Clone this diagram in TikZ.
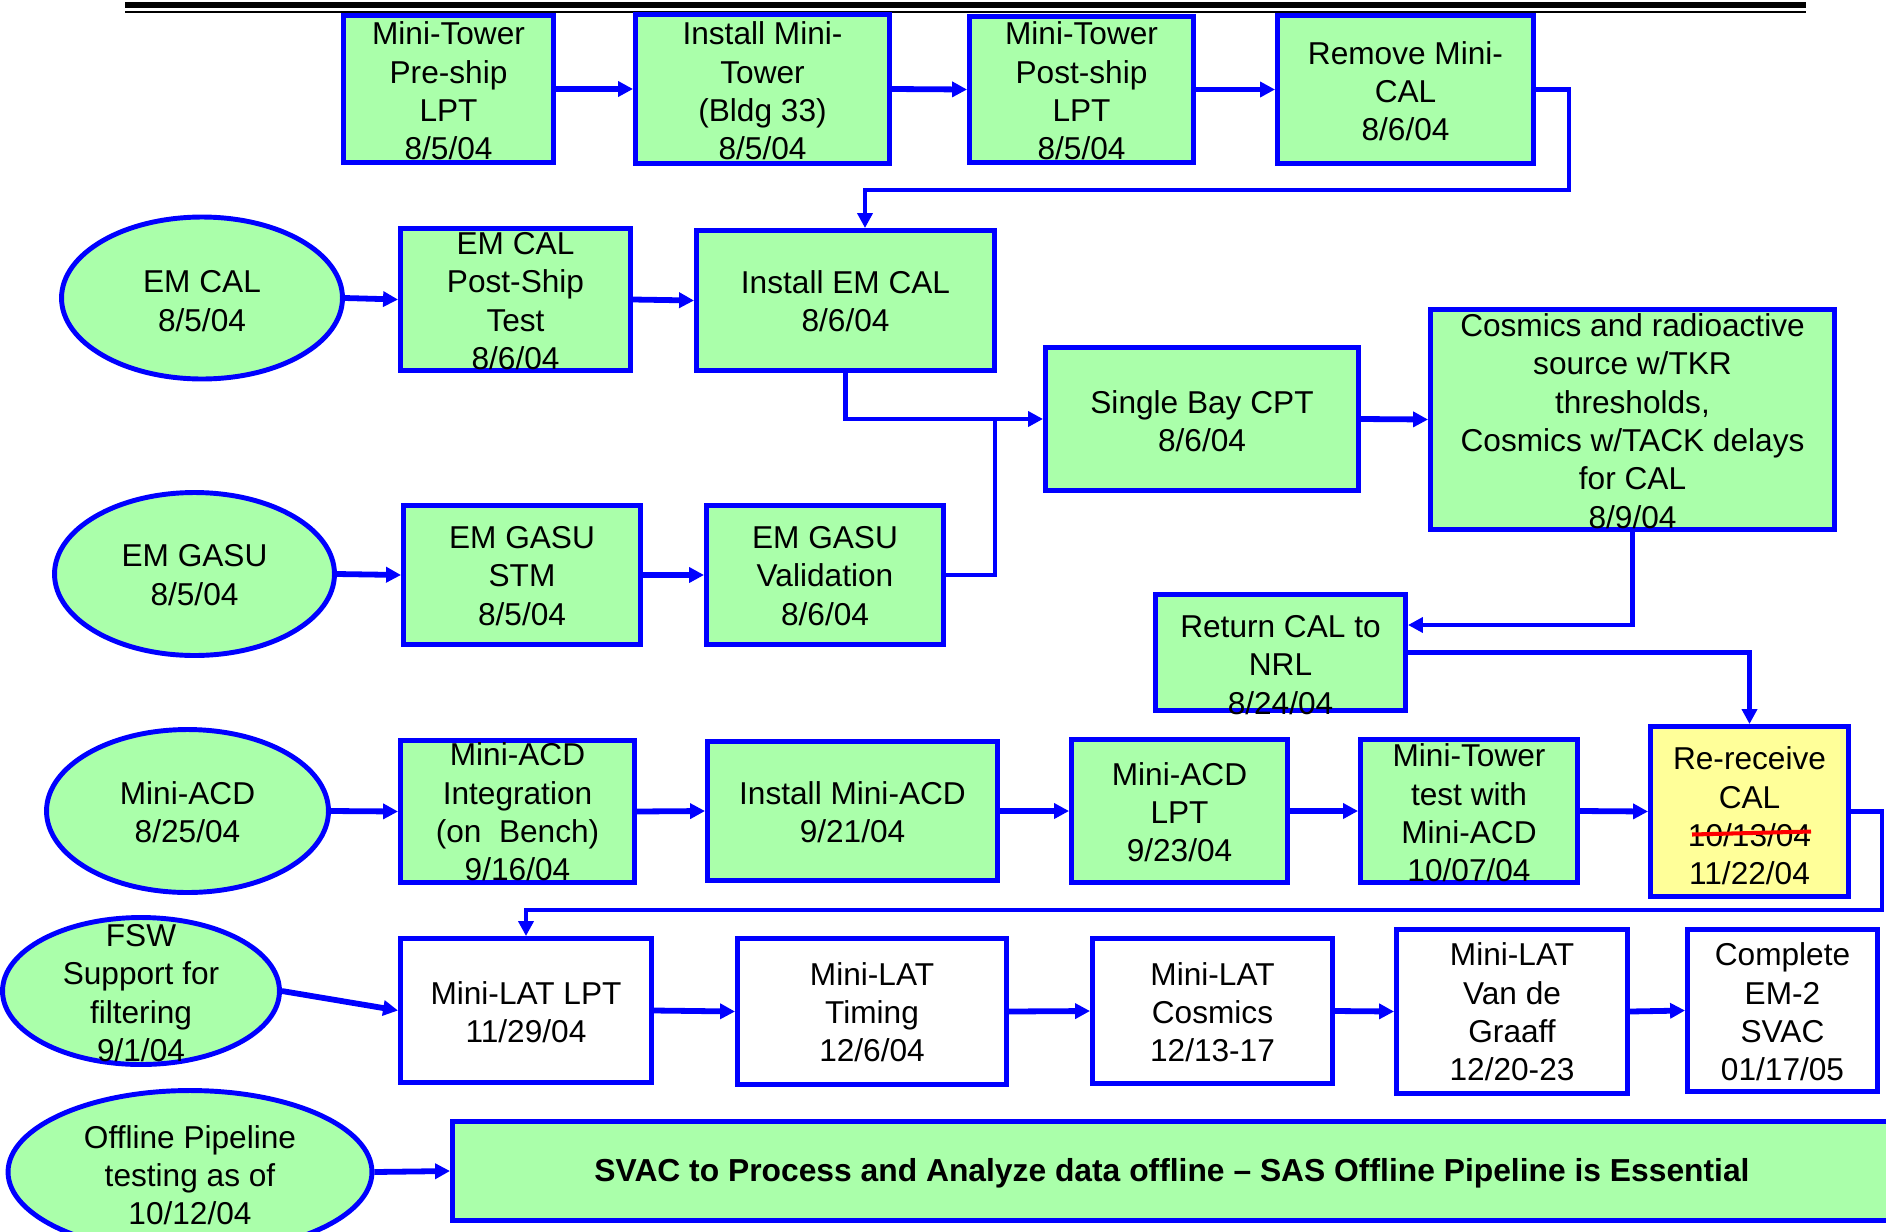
\documentclass[tikz,border=0pt]{standalone}
\usepackage{fontspec}
\setmainfont{Liberation Sans}
\usetikzlibrary{arrows.meta,shapes.geometric,fit}
\definecolor{lgreen}{RGB}{170,255,170}
\definecolor{bblue}{RGB}{0,0,255}
\definecolor{lyellow}{RGB}{255,255,153}
\definecolor{sred}{RGB}{255,0,0}
\begin{document}
\begin{tikzpicture}[x=0.02cm,y=-0.02cm,
  gbox/.style={rectangle, draw=bblue, line width=2.8pt, fill=lgreen, inner sep=0pt},
  wbox/.style={gbox, fill=white},
  ybox/.style={gbox, fill=lyellow},
  gell/.style={ellipse, draw=bblue, line width=2.8pt, fill=lgreen, inner sep=0pt},
  txt/.style={align=center, font=\fontsize{18}{21.8}\selectfont, inner sep=0pt},
  arr/.style={draw=bblue, line width=3.3pt, -{Triangle[length=8.5pt,width=8.5pt]}},
  earr/.style={draw=bblue, line width=2.8pt, -{Triangle[length=8.5pt,width=8.5pt]}},
  ln/.style={draw=bblue, line width=2.8pt}]
\fill[white] (0,0) rectangle (1886,1231);
\useasboundingbox (0,0) rectangle (1886,1231);

% top rule
\draw[line width=3.8pt] (125,5) -- (1806,5);
\draw[line width=1.1pt] (125,12) -- (1806,12);

% row 1
\node[gbox, fit={(343.5,15.5) (553.5,162.5)}] (mt1) {};
\node[gbox, fit={(635.5,14.5) (889.5,163.5)}] (mt2) {};
\node[gbox, fit={(969.5,16.5) (1193.5,162.5)}] (mt3) {};
\node[gbox, fit={(1277.5,15.5) (1533.5,163.5)}] (mt4) {};
\node[txt] (tmt1) at (448.5,91) {Mini-Tower\\Pre-ship\\LPT\\8/5/04};
\node[txt] (tmt2) at (762.5,91) {Install Mini-\\Tower\\(Bldg 33)\\8/5/04};
\node[txt] (tmt3) at (1081.5,91) {Mini-Tower\\Post-ship\\LPT\\8/5/04};
\node[txt] (tmt4) at (1405.5,91) {Remove Mini-\\CAL\\8/6/04};

% row 2
\node[gell, minimum width=5.62cm, minimum height=3.24cm] (emcal) at (202,298) {};
\node[txt] (temcal) at (202,301) {EM CAL\\8/5/04};
\node[gbox, fit={(400.5,228.5) (630.5,370.5)}] (pst) {};
\node[txt] (tpst) at (515.5,301) {EM CAL\\Post-Ship\\Test\\8/6/04};
\node[gbox, fit={(696.5,230.5) (994.5,370.5)}] (inst) {};
\node[txt] (tinst) at (845.5,301) {Install EM CAL\\8/6/04};
\node[gbox, fit={(1045.5,347.5) (1358.5,490.5)}] (sbc) {};
\node[txt] (tsbc) at (1202,421) {Single Bay CPT\\8/6/04};
\node[gbox, fit={(1430.5,309.5) (1834.5,529.5)}] (cos) {};
\node[txt] (tcos) at (1632.5,421) {Cosmics and radioactive\\source w/TKR\\thresholds,\\Cosmics w/TACK delays\\for CAL\\8/9/04};

% row 3
\node[gell, minimum width=5.60cm, minimum height=3.26cm] (egasu) at (194.5,574) {};
\node[txt] (tegasu) at (194.5,575) {EM GASU\\8/5/04};
\node[gbox, fit={(403.5,505.5) (640.5,644.5)}] (gstm) {};
\node[txt] (tgstm) at (522,576) {EM GASU\\STM\\8/5/04};
\node[gbox, fit={(706.5,505.5) (943.5,644.5)}] (gval) {};
\node[txt] (tgval) at (825,576) {EM GASU\\Validation\\8/6/04};
\node[gbox, fit={(1155.5,594.5) (1405.5,710.5)}] (rcal) {};
\node[txt] (trcal) at (1280.5,665) {Return CAL to\\NRL\\8/24/04};

% row 4
\node[gell, minimum width=5.64cm, minimum height=3.26cm] (macd) at (187.5,811) {};
\node[txt] (tmacd) at (187.5,812) {Mini-ACD\\8/25/04};
\node[gbox, fit={(400.5,740.5) (634.5,882.5)}] (mint) {};
\node[txt] (tmint) at (517.5,812) {Mini-ACD\\Integration\\(on\ \ Bench)\\9/16/04};
\node[gbox, fit={(707.5,741.5) (997.5,880.5)}] (minst) {};
\node[txt] (tminst) at (852.5,812) {Install Mini-ACD\\9/21/04};
\node[gbox, fit={(1071.5,739.5) (1287.5,882.5)}] (mlpt) {};
\node[txt] (tmlpt) at (1179.5,812) {Mini-ACD\\LPT\\9/23/04};
\node[gbox, fit={(1360.5,739.5) (1577.5,882.5)}] (mtt) {};
\node[txt] (tmtt) at (1469,813) {Mini-Tower\\test with\\Mini-ACD\\10/07/04};
\node[ybox, fit={(1650.5,726.5) (1848.5,896.5)}] (rrc) {};
\node[txt] (trrc) at (1749.5,816) {Re-receive\\CAL\\10/13/04\\11/22/04};
\draw[sred, line width=2.3pt] (1692,834.5) -- (1811,831.5);

% row 5
\node[gell, minimum width=5.54cm, minimum height=2.94cm] (fsw) at (141,991) {};
\node[txt] (tfsw) at (141,993) {FSW\\Support for\\filtering\\9/1/04};
\node[wbox, fit={(400.5,938.5) (651.5,1082.5)}] (mlat) {};
\node[txt] (tmlat) at (526,1012) {Mini-LAT LPT\\11/29/04};
\node[wbox, fit={(737.5,938.5) (1006.5,1084.5)}] (tim) {};
\node[txt] (ttim) at (872,1012) {Mini-LAT\\Timing\\12/6/04};
\node[wbox, fit={(1092.5,938.5) (1332.5,1083.5)}] (mcos) {};
\node[txt] (tmcos) at (1212.5,1012) {Mini-LAT\\Cosmics\\12/13-17};
\node[wbox, fit={(1396.5,929.5) (1627.5,1093.5)}] (vdg) {};
\node[txt] (tvdg) at (1512,1012) {Mini-LAT\\Van de\\Graaff\\12/20-23};
\node[wbox, fit={(1687.5,929.5) (1877.5,1091.5)}] (comp) {};
\node[txt] (tcomp) at (1782.5,1012) {Complete\\EM-2\\SVAC\\01/17/05};

% row 6
\node[gell, minimum width=7.28cm, minimum height=3.26cm] (off) at (190,1172) {};
\node[txt] (toff) at (190,1175) {Offline Pipeline\\testing as of\\10/12/04};
\node[gbox, fit={(452.5,1121.5) (1892,1220.5)}] (svac) {};
\node[txt, font=\fontsize{18.1}{21.8}\selectfont\bfseries] (tsvac) at (1172,1173) {SVAC to Process and Analyze data offline – SAS Offline Pipeline is Essential};

% connectors
\coordinate (c0) at (1569,190);
\coordinate (c1) at (865,190);
\coordinate (j1) at (995,0);
\coordinate (c2) at (0,625);
\coordinate (c3) at (1882,910);

\draw[arr] (mt1.east) -- (mt2.west);
\draw[arr] (mt2.east) -- (mt3.west);
\draw[arr] (mt3.east) -- (mt4.west);
\draw[earr] (mt4.east) -| (c0) -- (c1) -- (c1 |- inst.north);

\draw[arr] (emcal.east) -- (pst.west);
\draw[arr] (pst.east) -- (inst.west);
\draw[earr] (inst.south) |- (sbc.west);
\draw[ln] (gval.east) -| (j1 |- sbc.west);
\draw[arr] (sbc.east) -- (cos.west);
\draw[earr] (cos.south) |- (rcal.east |- c2);
\draw[earr] (rcal.east) -| (rrc.north);

\draw[arr] (egasu.east) -- (gstm.west);
\draw[arr] (gstm.east) -- (gval.west);

\draw[arr] (macd.east) -- (mint.west);
\draw[arr] (mint.east) -- (minst.west);
\draw[arr] (minst.east) -- (mlpt.west);
\draw[arr] (mlpt.east) -- (mtt.west);
\draw[arr] (mtt.east) -- (rrc.west);
\draw[earr] (rrc.east) -| (c3) -| (mlat.north);

\draw[arr] (fsw.east) -- (mlat.west);
\draw[arr] (mlat.east) -- (tim.west);
\draw[arr] (tim.east) -- (mcos.west);
\draw[arr] (mcos.east) -- (vdg.west);
\draw[arr] (vdg.east) -- (comp.west);

\draw[arr] (off.east) -- (svac.west);
\end{tikzpicture}
\end{document}
